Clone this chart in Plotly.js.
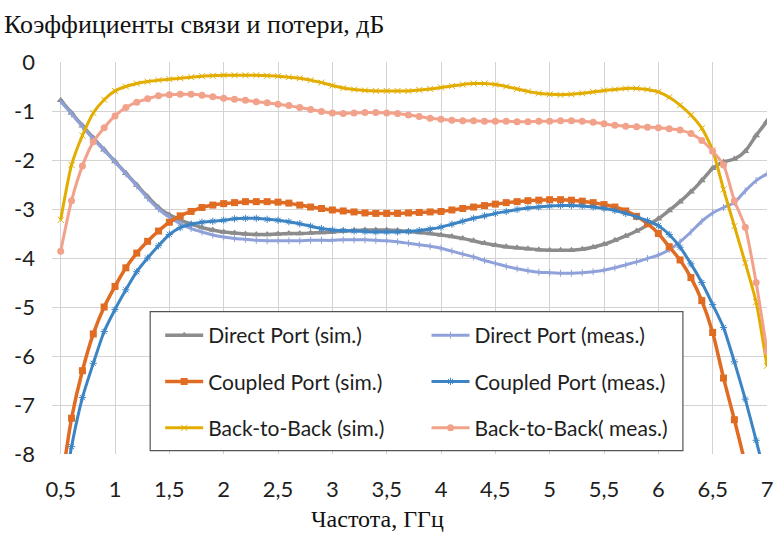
<!DOCTYPE html>
<html>
<head>
<meta charset="utf-8">
<script src="https://cdn.plot.ly/plotly-3.0.1.min.js"></script>
<style>
  html, body { margin: 0; padding: 0; background: #ffffff; }
  #chart { width: 774px; height: 533px; }
</style>
</head>
<body>
<div id="chart"></div>
<script>
// Frequency grid, GHz
const freq = [0.5, 0.6, 0.7, 0.8, 0.9,
  1.0, 1.1, 1.2, 1.3, 1.4, 1.5, 1.6, 1.7, 1.8, 1.9,
  2.0, 2.1, 2.2, 2.3, 2.4, 2.5, 2.6, 2.7, 2.8, 2.9,
  3.0, 3.1, 3.2, 3.3, 3.4, 3.5, 3.6, 3.7, 3.8, 3.9,
  4.0, 4.1, 4.2, 4.3, 4.4, 4.5, 4.6, 4.7, 4.8, 4.9,
  5.0, 5.1, 5.2, 5.3, 5.4, 5.5, 5.6, 5.7, 5.8, 5.9,
  6.0, 6.1, 6.2, 6.3, 6.4, 6.5, 6.6, 6.7, 6.8, 6.9,
  7.0];

// Transmission / coupling, dB
const directSim = [-0.78, -1.04, -1.30, -1.55, -1.79,
  -2.03, -2.27, -2.51, -2.75, -2.97, -3.12, -3.22, -3.31, -3.38, -3.43,
  -3.47, -3.49, -3.51, -3.52, -3.52, -3.51, -3.50, -3.50, -3.49, -3.48,
  -3.47, -3.45, -3.44, -3.43, -3.43, -3.43, -3.44, -3.46, -3.48, -3.50,
  -3.53, -3.56, -3.60, -3.65, -3.70, -3.74, -3.77, -3.79, -3.81, -3.83,
  -3.84, -3.84, -3.84, -3.82, -3.78, -3.72, -3.64, -3.55, -3.45, -3.33,
  -3.20, -3.03, -2.85, -2.65, -2.42, -2.17, -2.04, -1.98, -1.82, -1.50,
  -1.21];

const directMeas = [-0.80, -1.06, -1.32, -1.57, -1.80,
  -2.04, -2.28, -2.53, -2.78, -3.00, -3.17, -3.30, -3.40, -3.47, -3.53,
  -3.57, -3.60, -3.62, -3.64, -3.65, -3.65, -3.65, -3.65, -3.64, -3.64,
  -3.64, -3.63, -3.63, -3.63, -3.64, -3.65, -3.67, -3.70, -3.73, -3.76,
  -3.80, -3.86, -3.92, -3.98, -4.05, -4.11, -4.17, -4.22, -4.26, -4.29,
  -4.30, -4.31, -4.31, -4.30, -4.28, -4.25, -4.20, -4.14, -4.08, -4.01,
  -3.94, -3.83, -3.67, -3.47, -3.25, -3.08, -2.97, -2.87, -2.63, -2.42,
  -2.28];

const coupledSim = [-8.70, -7.27, -6.30, -5.55, -5.00,
  -4.58, -4.20, -3.90, -3.66, -3.45, -3.27, -3.14, -3.05, -2.97, -2.92,
  -2.89, -2.87, -2.85, -2.85, -2.85, -2.86, -2.88, -2.92, -2.96, -2.99,
  -3.02, -3.04, -3.06, -3.08, -3.09, -3.09, -3.09, -3.08, -3.07, -3.06,
  -3.05, -3.02, -2.99, -2.96, -2.93, -2.90, -2.87, -2.85, -2.83, -2.82,
  -2.81, -2.81, -2.82, -2.84, -2.87, -2.91, -2.96, -3.04, -3.15, -3.30,
  -3.50, -3.77, -4.04, -4.40, -4.87, -5.52, -6.45, -7.30, -8.20, -9.10,
  -10.00];

const coupledMeas = [-9.20, -7.85, -6.85, -6.15, -5.50,
  -5.05, -4.65, -4.28, -4.00, -3.75, -3.52, -3.38, -3.31, -3.27, -3.25,
  -3.23, -3.20, -3.19, -3.19, -3.21, -3.23, -3.26, -3.30, -3.35, -3.40,
  -3.43, -3.44, -3.45, -3.46, -3.47, -3.47, -3.47, -3.46, -3.44, -3.41,
  -3.37, -3.31, -3.25, -3.19, -3.14, -3.09, -3.05, -3.01, -2.98, -2.96,
  -2.94, -2.93, -2.93, -2.94, -2.96, -2.99, -3.03, -3.09, -3.16, -3.24,
  -3.34, -3.52, -3.78, -4.12, -4.50, -4.95, -5.42, -6.12, -6.88, -7.72,
  -8.60];

const backToBackSim = [-3.22, -2.10, -1.50, -1.04, -0.77,
  -0.59, -0.50, -0.44, -0.40, -0.37, -0.35, -0.33, -0.31, -0.29, -0.28,
  -0.27, -0.27, -0.27, -0.27, -0.28, -0.29, -0.31, -0.33, -0.37, -0.42,
  -0.48, -0.53, -0.56, -0.58, -0.59, -0.59, -0.59, -0.59, -0.57, -0.55,
  -0.52, -0.49, -0.46, -0.44, -0.44, -0.46, -0.50, -0.55, -0.60, -0.64,
  -0.66, -0.67, -0.66, -0.64, -0.61, -0.58, -0.56, -0.54, -0.54, -0.56,
  -0.61, -0.72, -0.88, -1.08, -1.35, -1.80, -2.60, -3.35, -4.10, -4.90,
  -6.20];

const backToBackMeas = [-3.86, -2.83, -2.12, -1.63, -1.34,
  -1.10, -0.93, -0.82, -0.75, -0.69, -0.67, -0.66, -0.66, -0.68, -0.71,
  -0.74, -0.76, -0.78, -0.81, -0.83, -0.86, -0.89, -0.93, -0.97, -1.01,
  -1.04, -1.05, -1.04, -1.03, -1.03, -1.04, -1.05, -1.08, -1.11, -1.15,
  -1.17, -1.19, -1.20, -1.20, -1.21, -1.21, -1.21, -1.22, -1.22, -1.21,
  -1.21, -1.20, -1.20, -1.21, -1.23, -1.26, -1.29, -1.31, -1.32, -1.33,
  -1.34, -1.36, -1.39, -1.46, -1.60, -1.82, -2.10, -2.83, -3.37, -4.50,
  -5.90];

// Series names
const seriesNames = ['Direct Port (sim.)', 'Direct Port (meas.)',
  'Coupled Port (sim.)', 'Coupled Port (meas.)',
  'Back-to-Back (sim.)', 'Back-to-Back( meas.)'];

// Axis ticks
const xTickVals = [0.5, 1, 1.5, 2, 2.5, 3, 3.5, 4, 4.5, 5, 5.5, 6, 6.5, 7];
const xTickText = ['0,5', '1', '1,5', '2', '2,5', '3', '3,5', '4', '4,5', '5', '5,5', '6', '6,5', '7'];
const yTickVals = [0, -1, -2, -3, -4, -5, -6, -7, -8];
const yTickText = ['0', '-1', '-2', '-3', '-4', '-5', '-6', '-7', '-8'];

const chartTitle = 'Коэффициенты связи и потери, дБ';
const xTitle = 'Частота, ГГц';

const SANS = 'Lato, "Open Sans", sans-serif';
const SERIF = '"Liberation Serif", "DejaVu Serif", serif';

function series(name, y, color, width, marker, legendId, group) {
  return {
    type: 'scatter', mode: 'lines+markers', name: name,
    x: freq, y: y,
    legend: legendId, legendgroup: group,
    line: {color: color, width: width, shape: 'spline', smoothing: 0.6},
    marker: Object.assign({color: color, line: {color: color, width: 1}}, marker),
    hoverinfo: 'x+y+name'
  };
}

const traces = [
  series(seriesNames[0], directSim, '#8c8c8c', 3.5, {symbol: 'triangle-up', size: 7, line: {width: 0}}, 'legend', 'g1'),
  series(seriesNames[1], directMeas, '#8fa1da', 3, {symbol: 'line-ns-open', size: 5}, 'legend2', 'g2'),
  series(seriesNames[2], coupledSim, '#e06b22', 3.5, {symbol: 'square', size: 7, line: {width: 0}}, 'legend', 'g3'),
  series(seriesNames[3], coupledMeas, '#3c84c4', 3, {symbol: 'asterisk-open', size: 6}, 'legend2', 'g4'),
  series(seriesNames[4], backToBackSim, '#e3ad00', 3, {symbol: 'x-thin-open', size: 6}, 'legend', 'g5'),
  series(seriesNames[5], backToBackMeas, '#f2a28a', 3, {symbol: 'circle', size: 7, line: {width: 0}}, 'legend2', 'g6')
];

const legendCommon = {
  xanchor: 'left', yanchor: 'top', orientation: 'v',
  bgcolor: 'rgba(0,0,0,0)', borderwidth: 0,
  font: {family: SANS, size: 21, color: '#1e1e1e'},
  itemwidth: 38, tracegroupgap: 16, traceorder: 'grouped',
  itemclick: false, itemdoubleclick: false
};

const layout = {
  width: 774, height: 533,
  margin: {l: 52, r: 7, t: 62, b: 79},
  paper_bgcolor: '#ffffff', plot_bgcolor: '#ffffff',
  separators: ', ',
  showlegend: true,
  title: {
    text: chartTitle,
    font: {family: SERIF, size: 26, color: '#111111'},
    xref: 'container', x: 4 / 774, xanchor: 'left',
    yref: 'container', y: 1 - 24 / 533, yanchor: 'middle'
  },
  xaxis: {
    range: [0.42, 7],
    tickmode: 'array', tickvals: xTickVals, ticktext: xTickText,
    showgrid: true, gridcolor: '#d3d3d3', gridwidth: 1,
    zeroline: false, showline: false, ticks: '',
    ticklabelstandoff: 20,
    tickfont: {family: SANS, size: 22, color: '#1e1e1e'},
    fixedrange: true
  },
  yaxis: {
    range: [-8, 0],
    tickmode: 'array', tickvals: yTickVals, ticktext: yTickText,
    showgrid: true, gridcolor: '#d3d3d3', gridwidth: 1,
    zeroline: false, showline: false, ticks: '',
    ticklabelstandoff: 16,
    tickfont: {family: SANS, size: 22, color: '#1e1e1e'},
    fixedrange: true
  },
  legend: Object.assign({x: 0.1513, y: 0.3546}, legendCommon),
  legend2: Object.assign({x: 0.5238, y: 0.3546}, legendCommon),
  shapes: [{
    type: 'rect', xref: 'paper', yref: 'paper', layer: 'above',
    x0: 0.1373, x1: 0.8824, y0: 0.0084, y1: 0.363,
    fillcolor: '#ffffff', line: {color: '#555555', width: 1.2}
  }],
  annotations: [{
    text: xTitle, showarrow: false,
    xref: 'paper', yref: 'paper', x: 0.455, y: -0.166,
    xanchor: 'center', yanchor: 'middle',
    font: {family: SERIF, size: 24, color: '#111111'}
  }]
};

Plotly.newPlot('chart', traces, layout, {displayModeBar: false, responsive: false});
</script>
</body>
</html>
